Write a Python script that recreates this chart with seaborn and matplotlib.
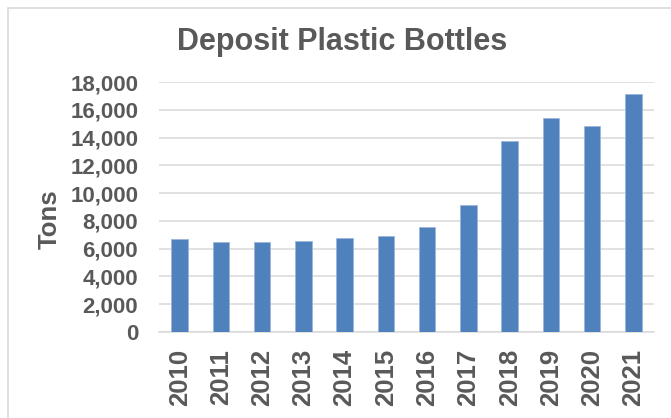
import matplotlib
matplotlib.use("Agg")
import matplotlib.pyplot as plt
from matplotlib.patches import Rectangle
from matplotlib.ticker import FuncFormatter
import seaborn as sns
import pandas as pd

# Annual tonnage of deposit plastic bottles
years = ["2010", "2011", "2012", "2013", "2014", "2015",
         "2016", "2017", "2018", "2019", "2020", "2021"]
tons = [6670, 6480, 6460, 6550, 6770, 6890, 7540, 9140, 13750, 15430, 14830, 17110]
y_ticks = [0, 2000, 4000, 6000, 8000, 10000, 12000, 14000, 16000, 18000]

df = pd.DataFrame({"Year": years, "Tons": tons})

sns.set_theme(style="white")
plt.rcParams["font.family"] = ["Liberation Sans", "DejaVu Sans"]

TEXT = "#595959"
GRID = "#D9D9D9"
BLUE = "#4F81BD"

W, H = 671, 418
fig = plt.figure(figsize=(W / 100, H / 100), dpi=100)
fig.patch.set_facecolor("white")

# chart-area frame
fig.patches.append(Rectangle((8 / W, -0.05), 1.1, (H - 8) / H + 0.05,
                             transform=fig.transFigure, fill=False,
                             edgecolor=GRID, linewidth=1.2))

left, right, top, bottom = 159, 654, 82, 332
ax = fig.add_axes([left / W, 1 - bottom / H, (right - left) / W, (bottom - top) / H])

sns.barplot(data=df, x="Year", y="Tons", color=BLUE, saturation=1,
            width=0.4, edgecolor="#9DB5DA", linewidth=0.6, ax=ax, zorder=3)

ax.set_ylim(0, 18000)
ax.set_xlim(-0.5, len(years) - 0.5)
ax.set_yticks(y_ticks)
ax.yaxis.set_major_formatter(FuncFormatter(lambda v, p: f"{int(v):,}"))
ax.grid(axis="y", color=GRID, linewidth=1.1, zorder=0)
ax.set_axisbelow(True)
for s in ["top", "right", "left"]:
    ax.spines[s].set_visible(False)
ax.spines["bottom"].set_color(GRID)
ax.spines["bottom"].set_linewidth(1.1)

ax.tick_params(axis="y", length=0, pad=15, labelsize=16, labelcolor=TEXT)
ax.tick_params(axis="x", length=0, pad=12, labelsize=18.5, labelcolor=TEXT,
               labelrotation=90)
for lbl in ax.get_yticklabels() + ax.get_xticklabels():
    lbl.set_fontweight("bold")

ax.set_xlabel("")
ax.set_ylabel("Tons", fontsize=18.5, fontweight="bold", color=TEXT)
ax.yaxis.set_label_coords((62 - left) / (right - left), (bottom - 219) / (bottom - top))

fig.text(342 / W, 1 - 42 / H, "Deposit Plastic Bottles", ha="center", va="center",
         fontsize=22, fontweight="bold", color=TEXT)

fig.savefig("out.png", dpi=100, facecolor="white")
